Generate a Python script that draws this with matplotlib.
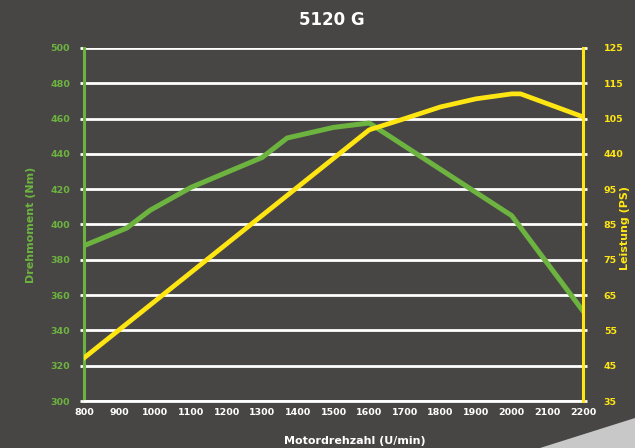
import matplotlib.pyplot as plt
from matplotlib.patches import Polygon

plt.rcParams['font.family'] = ['DejaVu Sans']
plt.rcParams['font.weight'] = 'bold'

bg = '#474645'
green = '#6db33f'
yellow = '#ffe612'

# Drehmoment (Nm)
torque_rpm = [800, 920, 985, 1100, 1300, 1370, 1500, 1600, 2000, 2200]
torque_nm = [388, 398, 408, 421, 438, 449, 455, 457.5, 405, 351]

# Leistung (PS) - in Skala der rechten Achse
power_rpm = [800, 1600, 1700, 1800, 1900, 2000, 2025, 2200]
power_ps = [47.2, 111.8, 115.0, 118.3, 120.6, 122.0, 122.0, 115.5]

x_ticks = list(range(800, 2201, 100))
left_ticks = list(range(300, 501, 20))
right_ticks = list(range(35, 136, 10))
right_labels = ['35', '45', '55', '65', '75', '85', '95', '440', '105', '115', '125']

fig = plt.figure(figsize=(6.35, 4.48), dpi=100, facecolor=bg)
ax = fig.add_axes([0.1323, 0.1049, 0.7858, 0.788])
ax.set_facecolor(bg)

ax.set_xlim(800, 2200)
ax.set_ylim(300, 500)
ax.set_xticks(x_ticks)
ax.set_yticks(left_ticks)
ax.grid(axis='y', color='white', lw=2)
ax.set_axisbelow(True)

ax.tick_params(axis='y', colors='white', labelcolor=green, length=3, width=2,
               labelsize=6.8, pad=7)
ax.tick_params(axis='x', length=0, labelcolor='white', labelsize=6.8, pad=5)
for lab in ax.get_xticklabels() + ax.get_yticklabels():
    lab.set_fontweight('bold')

ax.spines['top'].set_visible(False)
ax.spines['right'].set_visible(False)
ax.spines['left'].set_color(green)
ax.spines['left'].set_linewidth(2.2)
ax.spines['bottom'].set_color('white')
ax.spines['bottom'].set_linewidth(2)

ax2 = ax.twinx()
ax2.set_ylim(35, 135)
ax2.set_yticks(right_ticks)
ax2.set_yticklabels(right_labels)
ax2.tick_params(axis='y', colors='white', labelcolor=yellow, length=3, width=2,
                labelsize=6.8, pad=12)
for lab in ax2.get_yticklabels():
    lab.set_fontweight('bold')
for s in ['top', 'left', 'bottom']:
    ax2.spines[s].set_visible(False)
ax2.spines['right'].set_color(yellow)
ax2.spines['right'].set_linewidth(2.2)

ax.plot(torque_rpm, torque_nm, color=green, lw=3.6, solid_joinstyle='round', zorder=3)
ax2.plot(power_rpm, power_ps, color=yellow, lw=3.4, solid_joinstyle='round', zorder=3)

ax.set_ylabel('Drehmoment (Nm)', color=green, fontsize=8, fontweight='bold', labelpad=10)
ax.set_xlabel('Motordrehzahl (U/min)', color='white', fontsize=8, fontweight='bold')
ax.xaxis.set_label_coords(0.543, -0.098)
fig.text(0.984, 0.49, 'Leistung (PS)', color=yellow, fontsize=8, fontweight='bold',
         rotation=90, ha='center', va='center')
fig.text(0.522, 0.955, '5120 G', color='white', fontsize=12, fontweight='bold',
         ha='center', va='center')

fig.patches.append(Polygon([[540 / 635, 0], [1, 30 / 448], [1, 0]], closed=True,
                           transform=fig.transFigure, facecolor='#c8c8c8',
                           edgecolor='none'))

fig.savefig('out.png', dpi=100, facecolor=bg)
